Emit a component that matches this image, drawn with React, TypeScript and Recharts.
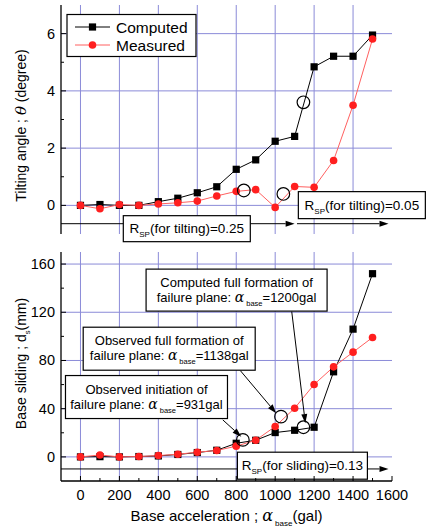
import React from 'react';
import { LineChart, Line, XAxis, YAxis, CartesianGrid, ReferenceDot, ReferenceLine, Customized } from 'recharts';

// base acceleration steps (gal)
const accel = [0, 100, 200, 300, 400, 500, 600, 700, 800, 900, 1000, 1100, 1200, 1300, 1400, 1500];

// tilting angle (degree)
const tiltComputed = [0, 0.03, 0, 0, 0.13, 0.25, 0.44, 0.65, 1.26, 1.59, 2.24, 2.41, 4.84, 5.21, 5.21, 5.95];
const tiltMeasured = [0, -0.12, 0.03, 0, 0.05, 0.09, 0.15, 0.33, 0.49, 0.55, -0.07, 0.66, 0.63, 1.57, 3.5, 5.81];

// base sliding (mm)
const slideComputed = [0, 0.2, 0, 0.3, 0.8, 2, 3.6, 5.5, 11.3, 13.8, 20.2, 22.1, 24.6, 70.6, 106, 152];
const slideMeasured = [0, 1.6, 0, 0.3, 1.1, 2.2, 3.9, 5.3, 8.9, 13.8, 25.2, 40.4, 60.1, 74.7, 86.9, 99.1];

// open circles marking failure stages
const tiltCircleX = [839, 1042, 1145];
const tiltCircleY = [0.52, 0.4, 3.6];
const slideCircleX = [834, 1030, 1145];
const slideCircleY = [14.1, 33.4, 24.6];

const xTicks = [0, 100, 200, 300, 400, 500, 600, 700, 800, 900, 1000, 1100, 1200, 1300, 1400, 1500, 1600];
const xGrid = [0, 200, 400, 600, 800, 1000, 1200, 1400];
const tiltTicks = [0, 1, 2, 3, 4, 5, 6];
const tiltGrid = [0, 2, 4, 6];
const slideTicks = [0, 20, 40, 60, 80, 100, 120, 140, 160];
const slideGrid = [0, 40, 80, 120, 160];

const tiltData = accel.map((a, i) => ({ a, computed: tiltComputed[i], measured: tiltMeasured[i] }));
const slideData = accel.map((a, i) => ({ a, computed: slideComputed[i], measured: slideMeasured[i] }));

const FONT = '"Liberation Sans", Arial, sans-serif';
const GRID = '#8b8bd8';
const RED = '#ff1f1f';
const RED_LINE = '#ff6060';
const AXIS = { stroke: '#000', strokeWidth: 1.3 };

const SquareDot = (p: any) => (
  <rect key={`sq-${p.index}`} x={p.cx - 3.6} y={p.cy - 3.6} width={7.2} height={7.2} fill="#000" />
);

const BottomTick = (p: any) => {
  const v = p.payload.value;
  const major = v % 200 === 0;
  return (
    <g>
      <line x1={p.x} x2={p.x} y1={p.y} y2={p.y - (major ? 5 : 3)} stroke="#000" />
      {p.labels && major && (
        <text x={p.x} y={p.y + 19} textAnchor="middle" fontSize={14.5} fill="#000">{v}</text>
      )}
    </g>
  );
};

const TopTick = (p: any) => {
  const major = p.payload.value % 200 === 0;
  return <line x1={p.x} x2={p.x} y1={p.y} y2={p.y + (major ? 5 : 3)} stroke="#000" />;
};

const leftTick = (step: number) => (p: any) => {
  const v = p.payload.value;
  const major = v % step === 0;
  return (
    <g>
      <line x1={p.x} x2={p.x + (major ? 5 : 3)} y1={p.y} y2={p.y} stroke="#000" />
      {major && (
        <text x={p.x - 6} y={p.y + 5} textAnchor="end" fontSize={14.5} fill="#000">{v}</text>
      )}
    </g>
  );
};

const rightTick = (step: number) => (p: any) => {
  const major = p.payload.value % step === 0;
  return <line x1={p.x} x2={p.x - (major ? 5 : 3)} y1={p.y} y2={p.y} stroke="#000" />;
};

const Arrow = (p: any) => {
  const { x1, y1, x2, y2 } = p;
  const ang = Math.atan2(y2 - y1, x2 - x1);
  const L = 9;
  const W = 3;
  const bx = x2 - L * Math.cos(ang);
  const by = y2 - L * Math.sin(ang);
  const px = -Math.sin(ang) * W;
  const py = Math.cos(ang) * W;
  return (
    <g>
      <line x1={x1} y1={y1} x2={bx} y2={by} stroke="#000" strokeWidth={1} />
      <polygon points={`${x2},${y2} ${bx + px},${by + py} ${bx - px},${by - py}`} fill="#000" />
    </g>
  );
};

const RspBox = ({ x, y, w, h, label }: any) => (
  <g>
    <rect x={x} y={y} width={w} height={h} fill="#fff" stroke="#000" strokeWidth={1.2} />
    <text x={x + w / 2} y={y + h / 2 + 4.5} textAnchor="middle" fontSize={13.5} fill="#000">
      <tspan>R</tspan>
      <tspan fontSize={8} dy={4}>SP</tspan>
      <tspan dy={-4}>{label}</tspan>
    </text>
  </g>
);

const NoteBox = ({ x, y, w, h, line1, value }: any) => (
  <g>
    <rect x={x} y={y} width={w} height={h} fill="#fff" stroke="#000" strokeWidth={1.2} />
    <text x={x + w / 2} y={y + 18} textAnchor="middle" fontSize={13} fill="#000">{line1}</text>
    <text x={x + w / 2} y={y + 33} textAnchor="middle" fontSize={13} fill="#000">
      <tspan>failure plane: </tspan>
      <tspan fontFamily="'DejaVu Serif', serif" fontStyle="italic" fontSize={14}>α</tspan>
      <tspan fontSize={7.5} dy={4} dx={2}>base</tspan>
      <tspan dy={-4}>={value}gal</tspan>
    </text>
  </g>
);

const LegendBox = () => (
  <g>
    <rect x={67} y={14.5} width={129} height={42} fill="#fff" stroke="#000" strokeWidth={1.2} />
    <line x1={75} x2={110} y1={27} y2={27} stroke="#000" />
    <rect x={88.9} y={23.4} width={7.2} height={7.2} fill="#000" />
    <text x={116} y={32.5} fontSize={15.5} fill="#000">Computed</text>
    <line x1={75} x2={110} y1={45} y2={45} stroke={RED_LINE} />
    <circle cx={92.5} cy={45} r={3.8} fill={RED} />
    <text x={116} y={50.5} fontSize={15.5} fill="#000">Measured</text>
  </g>
);

const YTitle = (p: any, parts: React.ReactNode, dy: number) => {
  const vb = p.viewBox;
  const cx = 26;
  const cy = vb.y + vb.height / 2 + dy;
  return (
    <text x={cx} y={cy} transform={`rotate(-90 ${cx} ${cy})`} textAnchor="middle" fontSize={14} fill="#000">
      {parts}
    </text>
  );
};

const XTitle = (p: any) => {
  const vb = p.viewBox;
  const cx = vb.x + vb.width / 2;
  return (
    <text x={cx} y={vb.y + 40} textAnchor="middle" fontSize={15} fill="#000">
      <tspan>Base acceleration ; </tspan>
      <tspan fontFamily="'DejaVu Serif', serif" fontStyle="italic" fontSize={16}>α</tspan>
      <tspan fontSize={8} dy={5} dx={2}>base</tspan>
      <tspan dy={-5}>(gal)</tspan>
    </text>
  );
};

const TiltChart = () => (
  <LineChart width={427} height={528} data={tiltData} margin={{ top: 5, right: 35, left: 0, bottom: 294 }}>
    <CartesianGrid xAxisId="b" yAxisId="l" stroke={GRID} strokeWidth={1} verticalValues={xGrid} horizontalValues={tiltGrid} />
    <XAxis xAxisId="b" dataKey="a" type="number" domain={[-100, 1600]} ticks={xTicks} interval={0} height={0}
      tickSize={0} tickMargin={0} tickLine={false} axisLine={AXIS} tick={(p: any) => <BottomTick {...p} labels={false} />} />
    <XAxis xAxisId="t" orientation="top" dataKey="a" type="number" domain={[-100, 1600]} ticks={xTicks} interval={0} height={0}
      tickSize={0} tickMargin={0} tickLine={false} axisLine={AXIS} tick={TopTick} />
    <YAxis yAxisId="l" type="number" domain={[-1, 7]} ticks={tiltTicks} interval={0} width={61}
      tickSize={0} tickMargin={0} tickLine={false} axisLine={AXIS} tick={leftTick(2)}
      label={{ content: (p: any) => YTitle(p, (
        <>
          <tspan>Tilting angle ; </tspan>
          <tspan fontFamily="'DejaVu Serif', serif" fontStyle="italic" fontSize={15}>θ</tspan>
          <tspan> (degree)</tspan>
        </>
      ), 6) }} />
    <YAxis yAxisId="r" orientation="right" type="number" domain={[-1, 7]} ticks={tiltTicks} interval={0} width={0}
      tickSize={0} tickMargin={0} tickLine={false} axisLine={AXIS} tick={rightTick(2)} />
    <Line xAxisId="b" yAxisId="l" dataKey="computed" stroke="#000" strokeWidth={1} dot={SquareDot} activeDot={false} isAnimationActive={false} />
    <Line xAxisId="b" yAxisId="l" dataKey="measured" stroke={RED_LINE} strokeWidth={1} dot={{ r: 3.8, fill: RED, stroke: RED, strokeWidth: 0 }} activeDot={false} isAnimationActive={false} />
    {tiltCircleX.map((x, i) => (
      <ReferenceDot key={`tc-${i}`} xAxisId="b" yAxisId="l" x={x} y={tiltCircleY[i]} r={6.3} fill="none" stroke="#000" strokeWidth={1.2} ifOverflow="visible" />
    ))}
    <ReferenceLine xAxisId="b" yAxisId="l" segment={[{ x: -100, y: -0.64 }, { x: 1100, y: -0.64 }]} shape={Arrow} ifOverflow="visible" />
    <ReferenceLine xAxisId="b" yAxisId="l" segment={[{ x: 1112, y: -0.64 }, { x: 1582, y: -0.64 }]} shape={Arrow} ifOverflow="visible" />
    <ReferenceDot xAxisId="b" yAxisId="l" x={220} y={-0.36} ifOverflow="visible"
      shape={(p: any) => <RspBox x={p.cx} y={p.cy} w={127} h={26} label="(for tilting)=0.25" />} />
    <ReferenceDot xAxisId="b" yAxisId="l" x={1119} y={0.48} ifOverflow="visible"
      shape={(p: any) => <RspBox x={p.cx} y={p.cy} w={127} h={27} label="(for tilting)=0.05" />} />
    <Customized component={<LegendBox />} />
  </LineChart>
);

const SlideChart = () => (
  <LineChart width={427} height={528} data={slideData} margin={{ top: 252, right: 35, left: 0, bottom: 0 }}>
    <CartesianGrid xAxisId="b" yAxisId="l" stroke={GRID} strokeWidth={1} verticalValues={xGrid} horizontalValues={slideGrid} />
    <XAxis xAxisId="b" dataKey="a" type="number" domain={[-100, 1600]} ticks={xTicks} interval={0} height={47}
      tickSize={0} tickMargin={0} tickLine={false} axisLine={AXIS} tick={(p: any) => <BottomTick {...p} labels />}
      label={{ content: XTitle }} />
    <XAxis xAxisId="t" orientation="top" dataKey="a" type="number" domain={[-100, 1600]} ticks={xTicks} interval={0} height={0}
      tickSize={0} tickMargin={0} tickLine={false} axisLine={AXIS} tick={TopTick} />
    <YAxis yAxisId="l" type="number" domain={[-20, 170]} ticks={slideTicks} interval={0} width={61}
      tickSize={0} tickMargin={0} tickLine={false} axisLine={AXIS} tick={leftTick(40)}
      label={{ content: (p: any) => YTitle(p, (
        <>
          <tspan>Base sliding ; d</tspan>
          <tspan fontSize={7.5} dy={4}>s</tspan>
          <tspan dy={-4}>(mm)</tspan>
        </>
      ), -3) }} />
    <YAxis yAxisId="r" orientation="right" type="number" domain={[-20, 170]} ticks={slideTicks} interval={0} width={0}
      tickSize={0} tickMargin={0} tickLine={false} axisLine={AXIS} tick={rightTick(40)} />
    <Line xAxisId="b" yAxisId="l" dataKey="computed" stroke="#000" strokeWidth={1} dot={SquareDot} activeDot={false} isAnimationActive={false} />
    <Line xAxisId="b" yAxisId="l" dataKey="measured" stroke={RED_LINE} strokeWidth={1} dot={{ r: 3.8, fill: RED, stroke: RED, strokeWidth: 0 }} activeDot={false} isAnimationActive={false} />
    {slideCircleX.map((x, i) => (
      <ReferenceDot key={`sc-${i}`} xAxisId="b" yAxisId="l" x={x} y={slideCircleY[i]} r={6.3} fill="none" stroke="#000" strokeWidth={1.2} ifOverflow="visible" />
    ))}
    <ReferenceLine xAxisId="b" yAxisId="l" segment={[{ x: -100, y: -10 }, { x: 1582, y: -10 }]} shape={Arrow} ifOverflow="visible" />
    <ReferenceDot xAxisId="b" yAxisId="l" x={806} y={3.9} ifOverflow="visible"
      shape={(p: any) => <RspBox x={p.cx} y={p.cy} w={130} h={27} label="(for sliding)=0.13" />} />
    <ReferenceLine xAxisId="b" yAxisId="l" segment={[{ x: 731, y: 30.7 }, { x: 826, y: 16.8 }]} shape={Arrow} ifOverflow="visible" />
    <ReferenceLine xAxisId="b" yAxisId="l" segment={[{ x: 821, y: 71.6 }, { x: 1005, y: 36.3 }]} shape={Arrow} ifOverflow="visible" />
    <ReferenceLine xAxisId="b" yAxisId="l" segment={[{ x: 1085, y: 120.6 }, { x: 1155, y: 28.0 }]} shape={Arrow} ifOverflow="visible" />
    <ReferenceDot xAxisId="b" yAxisId="l" x={337} y={155.8} ifOverflow="visible"
      shape={(p: any) => <NoteBox x={p.cx} y={p.cy} w={181} h={42} line1="Computed full formation of" value="1200" />} />
    <ReferenceDot xAxisId="b" yAxisId="l" x={14} y={107.6} ifOverflow="visible"
      shape={(p: any) => <NoteBox x={p.cx} y={p.cy} w={172} h={43} line1="Observed full formation of" value="1138" />} />
    <ReferenceDot xAxisId="b" yAxisId="l" x={-77} y={67.5} ifOverflow="visible"
      shape={(p: any) => <NoteBox x={p.cx} y={p.cy} w={162} h={43} line1="Observed initiation of" value="931" />} />
  </LineChart>
);

export default function App() {
  return (
    <div style={{ position: 'absolute', left: 0, top: 0, width: 427, height: 528, background: '#fff', fontFamily: FONT }}>
      <div style={{ position: 'absolute', left: 0, top: 0 }}>
        <SlideChart />
      </div>
      <div style={{ position: 'absolute', left: 0, top: 0 }}>
        <TiltChart />
      </div>
    </div>
  );
}
